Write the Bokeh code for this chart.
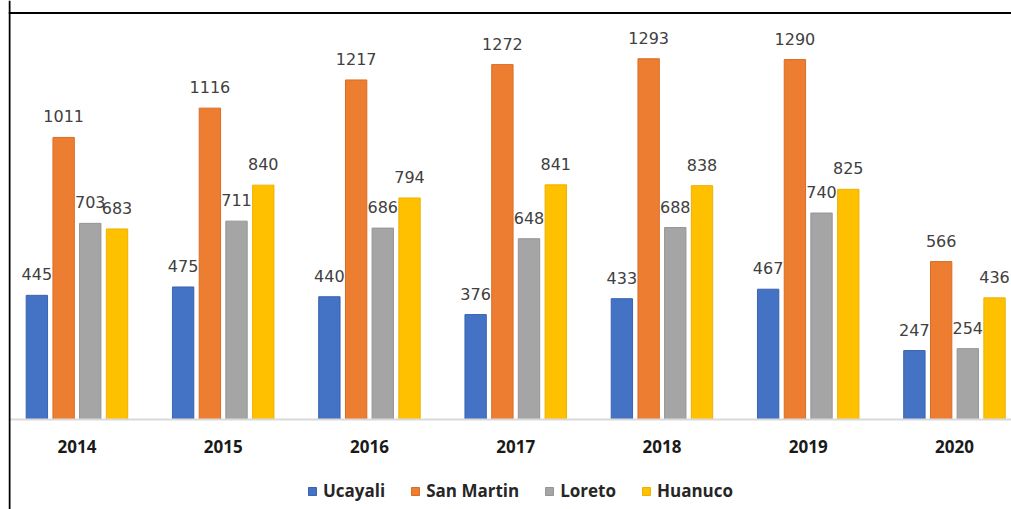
from bokeh.plotting import figure
from bokeh.models import ColumnDataSource, Range1d, Span, Legend
from bokeh.transform import dodge
from bokeh.core.properties import value
from bokeh.embed import file_html
from bokeh.resources import INLINE

years = ["2014", "2015", "2016", "2017", "2018", "2019", "2020"]
ucayali = [445, 475, 440, 376, 433, 467, 247]
san_martin = [1011, 1116, 1217, 1272, 1293, 1290, 566]
loreto = [703, 711, 686, 648, 688, 740, 254]
huanuco = [683, 840, 794, 841, 838, 825, 436]

series = [
    ("Ucayali", ucayali, "#4472C4", "#3A63B0"),
    ("San Martin", san_martin, "#ED7D31", "#D96C24"),
    ("Loreto", loreto, "#A5A5A5", "#959595"),
    ("Huanuco", huanuco, "#FFC000", "#EDB100"),
]
offsets = [-0.274, -0.091, 0.091, 0.274]

W, H = 1011, 509
LEFT = 8
FW = W - LEFT
x_start, x_end = -0.468, 6.390
y_start, y_end = -322.6, 1501.8

p = figure(width=W, height=H, output_backend="svg", toolbar_location=None,
           x_range=Range1d(x_start, x_end), y_range=Range1d(y_start, y_end),
           min_border=0, min_border_left=LEFT, min_border_right=0,
           min_border_top=0, min_border_bottom=0)
p.axis.visible = False
p.grid.visible = False
p.outline_line_color = None
p.background_fill_color = "white"
p.border_fill_color = "white"

data = dict(idx=list(range(len(years))), year=years)
for i, (name, vals, _, _) in enumerate(series):
    data["s%d" % i] = vals
    data["t%d" % i] = [str(v) for v in vals]
src = ColumnDataSource(data)

# baseline
p.add_layout(Span(location=0, dimension="width", line_color="#D9D9D9", line_width=2))

items = []
for i, (name, vals, col, lcol) in enumerate(series):
    r = p.vbar(x=dodge("idx", offsets[i], range=p.x_range), top="s%d" % i, bottom=0,
               width=0.146, source=src, fill_color=col, line_color=lcol, line_width=1)
    items.append((name, [r]))
    p.text(x=dodge("idx", offsets[i], range=p.x_range), y="s%d" % i, text="t%d" % i,
           source=src, text_align="center", text_baseline="alphabetic", y_offset=-21,
           text_font=value("DejaVu Sans"), text_font_size="16px", text_color="#404040")

p.text(x="idx", y=0, text="year", source=src, text_align="center",
       text_baseline="alphabetic", y_offset=27, text_font=value("Open Sans"),
       text_font_style="bold", text_font_size="17px", text_color="#1a1a1a")

# frame lines (top and left)
px_x = (x_end - x_start) / FW
px_y = (y_end - y_start) / H
p.add_layout(Span(location=x_start + 1 * px_x, dimension="height", line_color="black", line_width=2))
p.add_layout(Span(location=y_end - 12.5 * px_y, dimension="width", line_color="black", line_width=2))

legend = Legend(items=items, orientation="horizontal", location=(299, 7),
                glyph_width=10, glyph_height=10, label_standoff=6, spacing=25,
                padding=0, margin=0, border_line_color=None, background_fill_alpha=0,
                label_text_font="Open Sans", label_text_font_style="bold",
                label_text_font_size="17px", label_text_color="#262626")
p.add_layout(legend, "center")

open("out.html", "w").write(file_html(p, INLINE))
